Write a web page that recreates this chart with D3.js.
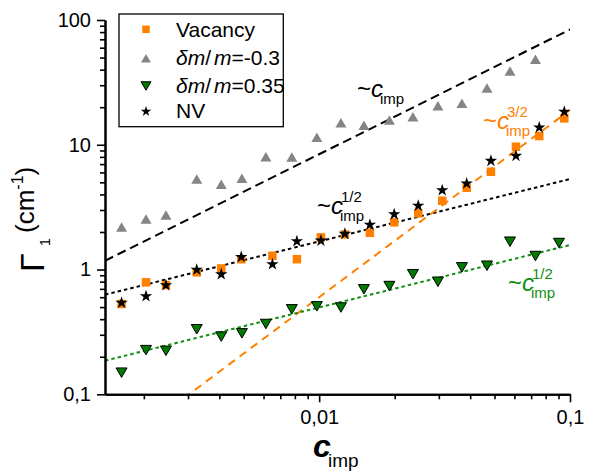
<!DOCTYPE html>
<html><head><meta charset="utf-8">
<script src="https://cdn.jsdelivr.net/npm/d3@7"></script>
<style>
body{margin:0;background:#fff}
svg{display:block}
text{font-family:"Liberation Sans",Arial,sans-serif}
</style>
</head><body>
<svg id="chart" width="591" height="471"></svg>
<script>
// ---- data ----
const concVN = [0.00163,0.00204,0.00245,0.00325,0.00407,0.00489,0.00651,0.00815,0.01016,0.01266,0.01593,0.01991,0.02483,0.03095,0.03873,0.04839,0.06088,0.07541,0.0949];
const vacancy = [0.53,0.79,0.75,0.95,1.02,1.21,1.29,1.21,1.81,1.91,1.97,2.39,2.82,3.56,4.52,6.08,9.64,11.75,16.28];
const nv = [0.55,0.62,0.76,1.01,0.93,1.28,1.12,1.71,1.73,1.96,2.32,2.81,3.29,4.39,4.96,7.54,8.27,13.95,18.64];
const concMass = [0.00163,0.00204,0.00245,0.00325,0.00407,0.00492,0.00613,0.00778,0.00979,0.01221,0.01508,0.01905,0.02365,0.02975,0.03708,0.04667,0.05765,0.07283,0.09036];
const massMinus = [2.19,2.54,2.73,5.31,4.82,5.38,8.02,7.97,11.47,15.02,14.31,15.78,16.77,20.55,21.48,28.5,38.99,48.4];
const massPlus = [0.149,0.226,0.223,0.332,0.290,0.308,0.366,0.480,0.507,0.496,0.694,0.737,0.917,0.798,1.041,1.073,1.671,1.283,1.631];
const yTicks = [0.1,1,10,100];
const yTickLabels = ["0,1","1","10","100"];
const xTicks = [0.01,0.1];
const xTickLabels = ["0,01","0,1"];
const xMinorTicks = [0.002,0.003,0.004,0.005,0.006,0.007,0.008,0.009,0.02,0.03,0.04,0.05,0.06,0.07,0.08,0.09];
const yMinorTicks = [0.2,0.3,0.4,0.5,0.6,0.7,0.8,0.9,2,3,4,5,6,7,8,9,20,30,40,50,60,70,80,90];
const legendLabels = ["Vacancy","δm/m=-0.3","δm/m=0.35","NV"];
// power-law guides: prefactor * c^exponent
const fitPrefactor = [840, 16.8, 600, 4.97];
const fitExponent = [1, 0.5, 1.5, 0.5];

// ---- styles ----
const ORANGE = "#FF8000", GRAY = "#858585", GREENF = "#007a00", GREENL = "#109010";
const svg = d3.select("#chart");
const x = d3.scaleLog().domain([0.0014, 0.1]).range([105, 570]);
const y = d3.scaleLog().domain([0.1, 100]).range([394.3, 20]);

svg.append("clipPath").attr("id","clip").append("rect")
  .attr("x",105).attr("y",20).attr("width",465).attr("height",374.3);

// ---- guide lines ----
const fitStyles = [
  {color:"#000", dash:"9,5"},
  {color:"#000", dash:"3.5,3"},
  {color:ORANGE, dash:"8,6"},
  {color:GREENL, dash:"3.5,3"}
];
const lineGen = d3.line().x(d=>x(d[0])).y(d=>y(d[1]));
const gLines = svg.append("g").attr("clip-path","url(#clip)");
fitPrefactor.forEach((a,i)=>{
  const xs = x.domain();
  gLines.append("path")
    .attr("d", lineGen(xs.map(c=>[c, a*Math.pow(c, fitExponent[i])])))
    .attr("fill","none").attr("stroke",fitStyles[i].color)
    .attr("stroke-width",2).attr("stroke-dasharray",fitStyles[i].dash);
});

// ---- axes ----
const fmtY = d => yTickLabels[yTicks.indexOf(d)];
const fmtX = d => xTickLabels[xTicks.indexOf(d)];
svg.append("g").attr("transform","translate(105,0)")
  .call(d3.axisLeft(y).tickValues(yTicks).tickFormat(fmtY).tickSize(8).tickSizeOuter(0).tickPadding(6));
svg.append("g").attr("transform","translate(105,0)")
  .call(d3.axisLeft(y).tickValues(yMinorTicks).tickFormat("").tickSize(5).tickSizeOuter(0));
svg.append("g").attr("transform","translate(0,394.3)")
  .call(d3.axisBottom(x).tickValues(xTicks).tickFormat(fmtX).tickSize(8).tickSizeOuter(0).tickPadding(8));
svg.append("g").attr("transform","translate(0,394.3)")
  .call(d3.axisBottom(x).tickValues(xMinorTicks).tickFormat("").tickSize(5).tickSizeOuter(0));
svg.selectAll(".domain").attr("stroke","#000").attr("stroke-width",2);
svg.selectAll(".tick line").attr("stroke","#000").attr("stroke-width",1.6);
svg.selectAll(".tick text").attr("font-size",20).attr("fill","#000")
  .attr("font-family","'Liberation Sans',Arial,sans-serif");

// ---- markers ----
function triPath(w,h,up){
  return up ? `M0,${-h/2}L${w/2},${h/2}L${-w/2},${h/2}Z` : `M0,${h/2}L${w/2},${-h/2}L${-w/2},${-h/2}Z`;
}
const starPath = d3.symbol(d3.symbolStar, 48)();
const starPathSm = d3.symbol(d3.symbolStar, 34)();
const gPts = svg.append("g");
gPts.selectAll(".tu").data(massMinus).join("path")
  .attr("d",triPath(11,9.5,true)).attr("fill",GRAY)
  .attr("transform",(d,i)=>`translate(${x(concMass[i])},${y(d)})`);
gPts.selectAll(".td").data(massPlus).join("path")
  .attr("d",triPath(11,9.5,false)).attr("fill",GREENF).attr("stroke","#000").attr("stroke-width",1)
  .attr("transform",(d,i)=>`translate(${x(concMass[i])},${y(d)})`);
gPts.selectAll(".sq").data(vacancy).join("rect")
  .attr("x",(d,i)=>x(concVN[i])-4.25).attr("y",d=>y(d)-4.25)
  .attr("width",8.5).attr("height",8.5).attr("fill",ORANGE);
gPts.selectAll(".st").data(nv).join("path")
  .attr("d",starPath).attr("fill","#000")
  .attr("transform",(d,i)=>`translate(${x(concVN[i])},${y(d)+0.8})`);

// ---- annotations (one text element each) ----
function annot(x0, B, color, sup){
  const t = svg.append("text").attr("x",x0).attr("y",B).attr("font-size",24).attr("fill",color);
  t.append("tspan").text("~");
  t.append("tspan").attr("font-style","italic").text("c");
  t.append("tspan").attr("font-size",15).attr("x",x0+23).attr("y",B+7).text("imp");
  if(sup) t.append("tspan").attr("font-size",15).attr("x",x0+24).attr("y",B-12).text(sup);
}
annot(357, 96.5, "#000", null);
annot(483, 129, ORANGE, "3/2");
annot(317, 214, "#000", "1/2");
annot(508, 291, GREENL, "1/2");

// ---- axis titles ----
const xt = svg.append("text").attr("x",313).attr("y",457).attr("font-size",32);
xt.append("tspan").attr("font-style","italic").attr("font-weight","bold").text("c");
xt.append("tspan").attr("font-size",19).attr("x",328).attr("y",467).text("imp");

const yl = svg.append("g").attr("transform","rotate(-90)");
const yg = yl.append("text").attr("x",-272).attr("y",44).attr("font-size",34)
  .attr("font-family","'Liberation Serif','Times New Roman',serif");
yg.append("tspan").text("Γ");
yg.append("tspan").attr("font-size",14).attr("x",-246).attr("y",50).text("1");
const ylt = yl.append("text").attr("x",-233).attr("y",34).attr("font-size",26);
ylt.append("tspan").text("(cm");
ylt.append("tspan").attr("font-size",16).attr("dy",-11).text("-1");
ylt.append("tspan").attr("dy",11).text(")");

// ---- legend ----
const lg = svg.append("g");
lg.append("rect").attr("x",119).attr("y",14).attr("width",164.3).attr("height",112.7)
  .attr("fill","#fff").attr("stroke","#000").attr("stroke-width",1.3);
const rowB = [36.7, 65, 93.3, 118];
const rowM = [29.3, 58.3, 86, 111];
lg.append("rect").attr("x",146-3.75).attr("y",rowM[0]-3.75).attr("width",7.5).attr("height",7.5).attr("fill",ORANGE);
lg.append("path").attr("d",triPath(10,8.5,true)).attr("fill",GRAY).attr("transform",`translate(146,${rowM[1]})`);
lg.append("path").attr("d",triPath(10,8.5,false)).attr("fill",GREENF).attr("stroke","#000").attr("stroke-width",1).attr("transform",`translate(146,${rowM[2]})`);
lg.append("path").attr("d",starPathSm).attr("fill","#000").attr("transform",`translate(146,${rowM[3]+0.5})`);
legendLabels.forEach((lab,i)=>{
  const t = lg.append("text").attr("x",176).attr("y",rowB[i]).attr("font-size",21);
  if(lab.startsWith("δ")){
    const rest = lab.slice(lab.indexOf("="));
    t.append("tspan").attr("font-style","italic").text("δm");
    t.append("tspan").text("/");
    t.append("tspan").attr("font-style","italic").attr("dx",3).text("m");
    t.append("tspan").text(rest);
  } else t.text(lab);
});
</script>
</body></html>
